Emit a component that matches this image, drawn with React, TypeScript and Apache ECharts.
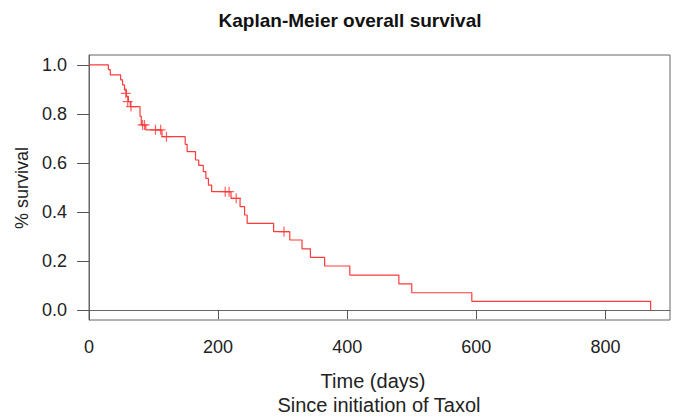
import React, { useEffect, useRef } from "react";
import * as echarts from "echarts";

// Kaplan-Meier step points: time (days) and survival after each event
const eventTimes = [0, 30, 33, 49, 52, 55, 58, 61, 64, 79, 81, 88, 113, 149, 152, 165, 170, 177, 181, 185, 190, 220, 234, 241, 245, 286, 311, 330, 343, 365, 404, 480, 500, 593, 870];
const survival = [1.0, 0.98, 0.959, 0.939, 0.918, 0.897, 0.871, 0.85, 0.83, 0.79, 0.755, 0.735, 0.707, 0.676, 0.646, 0.612, 0.59, 0.565, 0.537, 0.51, 0.483, 0.456, 0.422, 0.388, 0.354, 0.32, 0.286, 0.25, 0.215, 0.18, 0.143, 0.107, 0.071, 0.036, 0.0];

// Censored observations
const censorTimes = [57, 60, 65, 83, 86, 103, 111, 120, 211, 217, 228, 302];
const censorSurv = [0.884, 0.85, 0.83, 0.755, 0.755, 0.735, 0.735, 0.707, 0.483, 0.483, 0.456, 0.32];

const xTicks = [0, 200, 400, 600, 800];
const yTicks = [0, 0.2, 0.4, 0.6, 0.8, 1.0];

const FONT = "'Liberation Sans', Arial, sans-serif";

export default function App() {
  const ref = useRef<HTMLDivElement>(null);

  useEffect(() => {
    if (!ref.current) return;
    const chart = echarts.init(ref.current, null, { renderer: "svg" });
    const curve = eventTimes.map((t, i) => [t, survival[i]]);
    const censors = censorTimes.map((t, i) => [t, censorSurv[i]]);

    chart.setOption({
      animation: false,
      backgroundColor: "#ffffff",
      grid: {
        left: 89,
        right: 10,
        top: 55,
        bottom: 97,
        show: true,
        borderColor: "#666666",
        borderWidth: 1,
        backgroundColor: "transparent",
      },
      xAxis: {
        type: "value",
        min: 0,
        max: 900,
        axisLine: { show: true, lineStyle: { color: "#666666", width: 1 } },
        axisTick: { show: true, length: 9, customValues: xTicks, lineStyle: { color: "#555555" } },
        axisLabel: {
          customValues: xTicks,
          fontSize: 18,
          color: "#222222",
          fontFamily: FONT,
          margin: 18,
        },
        splitLine: { show: false },
      },
      yAxis: {
        type: "value",
        min: -0.04,
        max: 1.04,
        axisLine: { show: true, lineStyle: { color: "#666666", width: 1 } },
        axisTick: { show: true, length: 12, customValues: yTicks, lineStyle: { color: "#555555" } },
        axisLabel: {
          customValues: yTicks,
          fontSize: 18,
          color: "#222222",
          fontFamily: FONT,
          margin: 22,
          formatter: (v: number) => v.toFixed(1),
        },
        splitLine: { show: false },
      },
      series: [
        {
          type: "line",
          step: "end",
          data: curve,
          showSymbol: false,
          symbol: "none",
          lineStyle: { color: "#ff3a3a", width: 1.2 },
        },
        {
          type: "scatter",
          data: censors,
          symbol: "path://M5,0L5,10M0,5L10,5",
          symbolSize: [10, 10],
          itemStyle: { color: "none", borderColor: "#ff3a3a", borderWidth: 1.2 },
        },
      ],
      graphic: [
        {
          type: "text",
          x: 350,
          y: 20,
          style: {
            text: "Kaplan-Meier overall survival",
            fontSize: 19,
            fontWeight: "bold",
            fontFamily: FONT,
            fill: "#111111",
            textAlign: "center",
            textVerticalAlign: "middle",
          },
        },
        {
          type: "text",
          x: 373,
          y: 381,
          style: {
            text: "Time (days)",
            fontSize: 20,
            fontFamily: FONT,
            fill: "#222222",
            textAlign: "center",
            textVerticalAlign: "middle",
          },
        },
        {
          type: "text",
          x: 379,
          y: 405,
          style: {
            text: "Since initiation of Taxol",
            fontSize: 20,
            fontFamily: FONT,
            fill: "#222222",
            textAlign: "center",
            textVerticalAlign: "middle",
          },
        },
        {
          type: "text",
          x: 22,
          y: 188,
          rotation: Math.PI / 2,
          style: {
            text: "% survival",
            fontSize: 18,
            fontFamily: FONT,
            fill: "#222222",
            textAlign: "center",
            textVerticalAlign: "middle",
          },
        },
      ],
    });

    return () => chart.dispose();
  }, []);

  return (
    <div
      ref={ref}
      style={{ position: "fixed", left: 0, top: 0, width: 680, height: 417 }}
    />
  );
}
